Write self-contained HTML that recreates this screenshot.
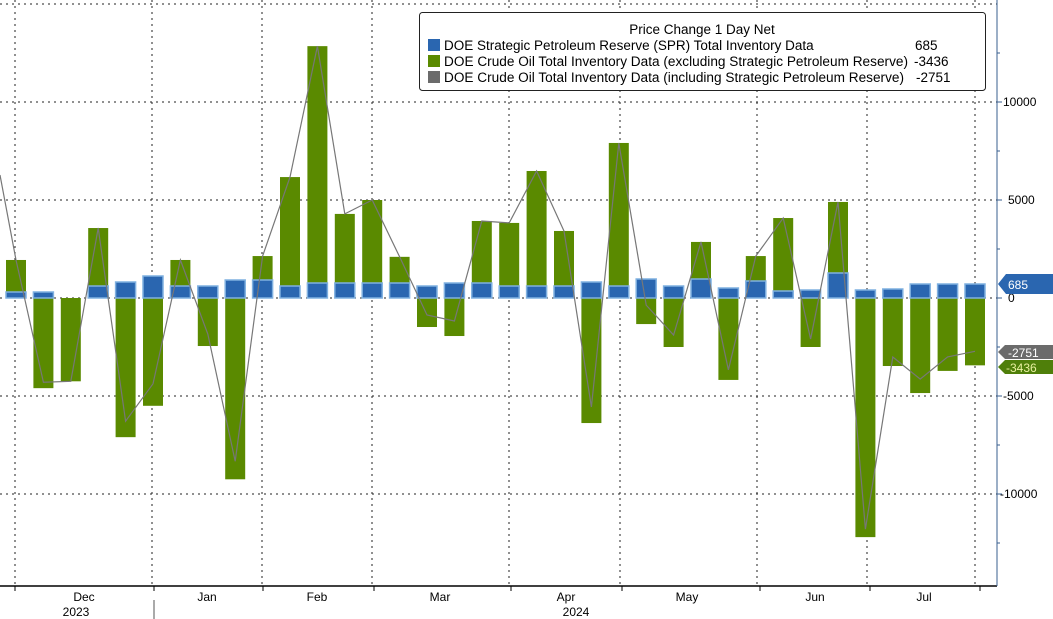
<!DOCTYPE html>
<html><head><meta charset="utf-8"><style>
html,body{margin:0;padding:0;background:#fff;}
svg{display:block;font-family:"Liberation Sans Narrow","Liberation Sans",sans-serif;}
</style></head><body>
<svg id="c" width="1053" height="619" viewBox="0 0 1053 619" xmlns="http://www.w3.org/2000/svg">
<rect width="1053" height="619" fill="#fff"/>
<g id="grid" stroke="#222" stroke-width="1" stroke-dasharray="2,4">
<line x1="0" y1="4" x2="997" y2="4"/>
<line x1="0" y1="102" x2="997" y2="102"/>
<line x1="0" y1="200" x2="997" y2="200"/>
<line x1="0" y1="298" x2="997" y2="298"/>
<line x1="0" y1="396" x2="997" y2="396"/>
<line x1="0" y1="494" x2="997" y2="494"/>
<line x1="15" y1="0" x2="15" y2="586"/>
<line x1="152" y1="0" x2="152" y2="586"/>
<line x1="262" y1="0" x2="262" y2="586"/>
<line x1="372" y1="0" x2="372" y2="586"/>
<line x1="509" y1="0" x2="509" y2="586"/>
<line x1="620" y1="0" x2="620" y2="586"/>
<line x1="757" y1="0" x2="757" y2="586"/>
<line x1="867" y1="0" x2="867" y2="586"/>
<line x1="975" y1="0" x2="975" y2="586"/>
</g>
<g id="bars"></g>
<polyline id="ln" fill="none" stroke="#777" stroke-width="1.2"/>
<line x1="0" y1="586" x2="997" y2="586" stroke="#000" stroke-width="1.5"/>
<line x1="997" y1="0" x2="997" y2="586" stroke="#3a5f8f" stroke-width="1"/>
<g font-size="12" fill="#000">
<text x="1003" y="106">10000</text>
<text x="1008" y="204">5000</text>
<text x="1008" y="302">0</text>
<text x="1003" y="400">-5000</text>
<text x="1000" y="498">-10000</text>
</g>
<g stroke="#3a5f8f"><line x1="997" y1="102" x2="1002" y2="102"/><line x1="997" y1="200" x2="1002" y2="200"/><line x1="997" y1="298" x2="1002" y2="298"/><line x1="997" y1="396" x2="1002" y2="396"/><line x1="997" y1="494" x2="1002" y2="494"/><line x1="997" y1="53" x2="1000" y2="53"/><line x1="997" y1="151" x2="1000" y2="151"/><line x1="997" y1="249" x2="1000" y2="249"/><line x1="997" y1="347" x2="1000" y2="347"/><line x1="997" y1="445" x2="1000" y2="445"/><line x1="997" y1="543" x2="1000" y2="543"/></g>
<polygon points="998,284 1006,274 1053,274 1053,294 1006,294" fill="#2a66b0"/>
<text x="1008" y="289" font-size="12" fill="#fff">685</text>
<polygon points="998,352 1005,345 1053,345 1053,359 1005,359" fill="#6b6b6b"/>
<text x="1008" y="357" font-size="12" fill="#fff">-2751</text>
<polygon points="998,367 1005,360 1053,360 1053,374 1005,374" fill="#4f7f0a"/>
<text x="1006" y="372" font-size="12" fill="#e8f0a0">-3436</text>
<g stroke="#000"><line x1="15" y1="586" x2="15" y2="591"/><line x1="154" y1="586" x2="154" y2="591"/><line x1="263" y1="586" x2="263" y2="591"/><line x1="374" y1="586" x2="374" y2="591"/><line x1="511" y1="586" x2="511" y2="591"/><line x1="622" y1="586" x2="622" y2="591"/><line x1="760" y1="586" x2="760" y2="591"/><line x1="870" y1="586" x2="870" y2="591"/><line x1="980" y1="586" x2="980" y2="591"/><line x1="154" y1="600" x2="154" y2="619" stroke="#555"/></g>
<g font-size="12" fill="#000" text-anchor="middle">
<text x="84" y="601">Dec</text><text x="207" y="601">Jan</text><text x="317" y="601">Feb</text><text x="440" y="601">Mar</text><text x="566" y="601">Apr</text><text x="687" y="601">May</text><text x="815" y="601">Jun</text><text x="924" y="601">Jul</text>
<text x="76" y="616">2023</text><text x="576" y="616">2024</text>
</g>
<rect x="419.5" y="12.5" width="566" height="78" rx="3" fill="#fff" stroke="#222"/>
<g font-size="13.5" fill="#000">
<text x="702" y="34" text-anchor="middle">Price Change 1 Day Net</text>
<rect x="428" y="39" width="12" height="12" fill="#2a66b0"/>
<text x="444" y="50">DOE Strategic Petroleum Reserve (SPR) Total Inventory Data</text>
<text x="915" y="50">685</text>
<rect x="428" y="55" width="12" height="12" fill="#5a8a00"/>
<text x="444" y="66" textLength="464" lengthAdjust="spacingAndGlyphs">DOE Crude Oil Total Inventory Data (excluding Strategic Petroleum Reserve)</text>
<text x="914" y="66">-3436</text>
<rect x="428" y="71" width="12" height="12" fill="#6b6b6b"/>
<text x="444" y="82" textLength="460" lengthAdjust="spacingAndGlyphs">DOE Crude Oil Total Inventory Data (including Strategic Petroleum Reserve)</text>
<text x="916" y="82">-2751</text>
</g>
</svg>
<script>
var g=[1940,-4600,-4250,3570,-7100,-5500,1940,-2450,-9250,2140,6170,12850,4290,5000,2100,-1480,-1940,3930,3830,6480,3420,-6380,7910,-1330,-2500,2860,-4180,2140,4080,-2500,4900,-12200,-3470,-4850,-3720,-3436];
var bp=[292,292,298,286,282,276,286,286,280,280,286,283,283,283,283,286,283,283,286,286,286,282,286,279,286,279,288,281,291,290,273,290,289,284,284,284];
var Y=function(v){return 298-v*0.0196;};
var ns="http://www.w3.org/2000/svg",G=document.getElementById('bars'),pts=["0,175"];
function r(x,y,w,h,f,s){var e=document.createElementNS(ns,'rect');e.setAttribute('x',x);e.setAttribute('y',y);e.setAttribute('width',w);e.setAttribute('height',Math.max(h,0));e.setAttribute('fill',f);if(s){e.setAttribute('stroke',s);e.setAttribute('stroke-width','1.5');}G.appendChild(e);}
for(var i=0;i<36;i++){var cx=16+i*27.4,y=Y(g[i]);
if(g[i]>=0)r(cx-10,y,20,298-y,'#5a8a00');else r(cx-10,298,20,y-298,'#5a8a00');
var b=bp[i];if(b<298)r(cx-10,b,20,298-b,'#2a66b0','#7fb0e0');
var ly=g[i]>=0?y:y-(298-b);pts.push(cx+","+ly.toFixed(1));}
document.getElementById('ln').setAttribute('points',pts.join(' '));
</script>
</body></html>
